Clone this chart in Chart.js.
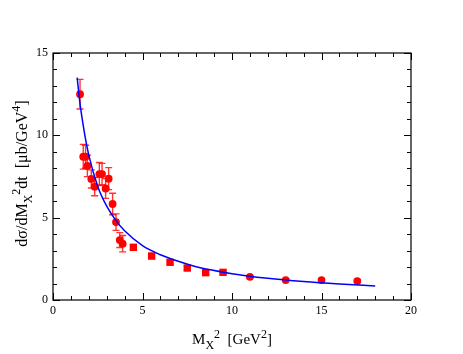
<!DOCTYPE html>
<html>
<head>
<meta charset="utf-8">
<script src="https://cdn.jsdelivr.net/npm/chart.js@4.4.1/dist/chart.umd.min.js"></script>
<style>
  html, body { margin: 0; padding: 0; background: #fff; }
  #wrap { width: 463px; height: 354px; }
</style>
</head>
<body>
<div id="wrap"><canvas id="c" width="463" height="354"></canvas></div>
<script>
// ---- data ----
const circleX   = [1.51, 1.69, 1.82, 1.92, 2.14, 2.33, 2.59, 2.74, 2.94, 3.11, 3.33, 3.52, 3.73, 3.89, 11.0, 13.0, 15.0, 17.0];
const circleY   = [12.5, 8.70, 8.70, 8.14, 7.35, 6.88, 7.65, 7.65, 6.77, 7.37, 5.83, 4.73, 3.64, 3.42, 1.41, 1.21, 1.21, 1.15];
const circleErr = [0.90, 0.75, 0.70, 0.65, 0.55, 0.55, 0.70, 0.65, 0.60, 0.67, 0.65, 0.50, 0.45, 0.50, 0.08, 0.08, 0.08, 0.08];

const squareX   = [4.49, 5.51, 6.54, 7.50, 8.53, 9.50];
const squareY   = [3.20, 2.67, 2.29, 1.94, 1.66, 1.68];
const squareErr = [0.15, 0.15, 0.12, 0.12, 0.12, 0.10];

const curveX = [1.35, 1.5, 1.75, 2.0, 2.5, 3.0, 3.5, 4.0, 5.0, 6.0, 7.0, 8.0, 10.0, 12.0, 14.0, 16.0, 18.0];
const curveY = [13.5, 12.0, 10.2, 8.8, 6.9, 5.7, 4.85, 4.2, 3.3, 2.75, 2.35, 2.02, 1.6, 1.32, 1.12, 0.97, 0.85];

const xTickLabels = [0, 5, 10, 15, 20];
const yTickLabels = [0, 5, 10, 15];

const toPts = (xs, ys) => xs.map((x, i) => ({ x: x, y: ys[i] }));

const FONT = "'Liberation Serif', 'Times New Roman', serif";

function drawRich(ctx, parts, cx, baseline, main, small) {
  const sizes = { n: main, sub: small, sup: small };
  const offs = { n: 0, sub: Math.round(main * 0.3), sup: -Math.round(main * 0.42) };
  let total = 0;
  parts.forEach(p => { ctx.font = sizes[p.t] + "px " + FONT; p.w = ctx.measureText(p.s).width; total += p.w; });
  let x = cx - total / 2;
  ctx.textBaseline = 'alphabetic';
  ctx.textAlign = 'left';
  parts.forEach(p => {
    ctx.font = sizes[p.t] + "px " + FONT;
    ctx.fillText(p.s, x, baseline + offs[p.t]);
    x += p.w;
  });
}

const framePlugin = {
  id: 'framePlugin',
  beforeDatasetsDraw(chart) {
    const ctx = chart.ctx, xs = chart.scales.x, ys = chart.scales.y;
    ctx.save();
    ctx.strokeStyle = 'rgba(255,0,0,0.8)';
    ctx.lineWidth = 1.4;
    const bars = (X, Y, E) => {
      X.forEach((xv, i) => {
        const px = xs.getPixelForValue(xv);
        const pt = ys.getPixelForValue(Y[i] + E[i]);
        const pb = ys.getPixelForValue(Y[i] - E[i]);
        ctx.beginPath();
        ctx.moveTo(px, pt); ctx.lineTo(px, pb);
        ctx.moveTo(px - 3.5, pt); ctx.lineTo(px + 3.5, pt);
        ctx.moveTo(px - 3.5, pb); ctx.lineTo(px + 3.5, pb);
        ctx.stroke();
      });
    };
    bars(circleX, circleY, circleErr);
    bars(squareX, squareY, squareErr);
    ctx.restore();
  },
  afterDraw(chart) {
    const ctx = chart.ctx, xs = chart.scales.x, ys = chart.scales.y;
    const { left, right, top, bottom } = chart.chartArea;
    ctx.save();
    ctx.strokeStyle = '#000';
    ctx.lineWidth = 1.2;
    ctx.strokeRect(left, top, right - left, bottom - top);
    ctx.lineWidth = 1;
    ctx.beginPath();
    for (let v = 0; v <= 20; v++) {
      const px = Math.round(xs.getPixelForValue(v)) + 0.5;
      const len = v % 5 === 0 ? 7 : 4;
      ctx.moveTo(px, bottom); ctx.lineTo(px, bottom - len);
      ctx.moveTo(px, top); ctx.lineTo(px, top + len);
    }
    for (let v = 0; v <= 15; v++) {
      const py = Math.round(ys.getPixelForValue(v)) + 0.5;
      const len = v % 5 === 0 ? 7 : 4;
      ctx.moveTo(left, py); ctx.lineTo(left + len, py);
      ctx.moveTo(right, py); ctx.lineTo(right - len, py);
    }
    ctx.stroke();

    ctx.fillStyle = '#000';
    // x-axis title
    drawRich(ctx, [
      { t: 'n', s: 'M' }, { t: 'sub', s: 'X' }, { t: 'sup', s: '2' },
      { t: 'n', s: '  [GeV' }, { t: 'sup', s: '2' }, { t: 'n', s: ']' }
    ], (left + right) / 2, 344, 15, 12);
    // y-axis title
    ctx.translate(27, (top + bottom) / 2 - 3);
    ctx.rotate(-Math.PI / 2);
    drawRich(ctx, [
      { t: 'n', s: 'dσ/dM' }, { t: 'sub', s: 'X' }, { t: 'sup', s: '2' },
      { t: 'n', s: 'dt  [μb/GeV' }, { t: 'sup', s: '4' }, { t: 'n', s: ']' }
    ], 0, 0, 16, 12);
    ctx.restore();
  }
};

new Chart(document.getElementById('c'), {
  type: 'scatter',
  data: {
    datasets: [
      {
        type: 'line',
        label: 'fit',
        data: toPts(curveX, curveY),
        borderColor: '#0000ff',
        borderWidth: 1.5,
        pointRadius: 0,
        fill: false,
        cubicInterpolationMode: 'monotone'
      },
      {
        label: 'data (circles)',
        data: toPts(circleX, circleY),
        pointStyle: 'circle',
        pointRadius: 3.9,
        backgroundColor: '#ff0000',
        borderColor: '#ff0000',
        borderWidth: 0
      },
      {
        label: 'data (squares)',
        data: toPts(squareX, squareY),
        pointStyle: 'rect',
        pointRadius: 5.2,
        backgroundColor: '#ff0000',
        borderColor: '#ff0000',
        borderWidth: 0
      }
    ]
  },
  options: {
    responsive: false,
    animation: false,
    layout: { padding: { top: 53, right: 52, left: 0, bottom: 0 } },
    plugins: { legend: { display: false }, tooltip: { enabled: false } },
    scales: {
      x: {
        type: 'linear', min: 0, max: 20,
        afterFit: s => { s.height = 54; },
        ticks: {
          stepSize: 5, padding: 4, color: '#000',
          font: { family: FONT, size: 12 },
          callback: v => xTickLabels.includes(v) ? String(v) : null
        },
        grid: { display: false, drawTicks: false },
        border: { display: false }
      },
      y: {
        type: 'linear', min: 0, max: 15,
        afterFit: s => { s.width = 53; },
        ticks: {
          stepSize: 5, padding: 5, color: '#000',
          font: { family: FONT, size: 12 },
          callback: v => yTickLabels.includes(v) ? String(v) : null
        },
        grid: { display: false, drawTicks: false },
        border: { display: false }
      }
    }
  },
  plugins: [framePlugin]
});
</script>
</body>
</html>
